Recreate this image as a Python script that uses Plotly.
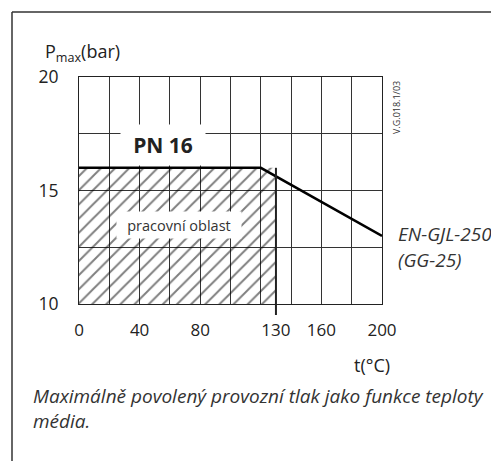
import plotly.graph_objects as go

# ---- data ----
temp_c = [0, 120, 200]            # temperature (°C)
p_max = [16, 16, 13]              # max pressure (bar), EN-GJL-250
area_t = [0, 130, 130, 0, 0]      # working area outline (°C)
area_p = [10, 10, 16, 16, 10]     # working area outline (bar)
x_tick_vals = [0, 40, 80, 130, 160, 200]
y_tick_vals = [10, 15, 20]

FONT = "Open Sans"
INK = "#222222"
OFF = 8  # page body margin

# plot area in screen pixels
L, R, T, B = 79, 382, 77, 304
W, H = R - L, B - T
FW, FH = 499 - OFF, 461 - OFF


def px(X):
    return (X - L) / W


def py(Y):
    return 1 - (Y - T) / H


fig = go.Figure()

# hatched working area
fig.add_trace(go.Scatter(
    x=area_t, y=area_p, mode="lines", fill="toself",
    fillcolor="rgba(0,0,0,0)",
    fillpattern=dict(shape="/", size=10, solidity=0.2, fgcolor="#000",
                     bgcolor="rgba(0,0,0,0)"),
    line=dict(width=0), hoverinfo="skip", showlegend=False))

# pressure curve
fig.add_trace(go.Scatter(
    x=temp_c, y=p_max, mode="lines",
    line=dict(color="black", width=2.5), showlegend=False))

# invisible trace on the label axis
fig.add_trace(go.Scatter(x=[0, 200], y=[10, 20], xaxis="x2", mode="markers",
                         marker=dict(opacity=0), hoverinfo="skip",
                         showlegend=False))

# right edge of working area (130 °C), extends below axis
fig.add_shape(type="line", xref="x", yref="paper", x0=130, x1=130,
              y0=py(315), y1=0.6, line=dict(color=INK, width=2))

# outer frame (top + left visible)
fig.add_shape(type="line", xref="paper", yref="paper", x0=px(12), x1=px(520),
              y0=py(12), y1=py(12), line=dict(color="#333", width=1.5))
fig.add_shape(type="line", xref="paper", yref="paper", x0=px(12), x1=px(12),
              y0=py(12), y1=py(480), line=dict(color="#333", width=1.5))

# labels inside the chart
fig.add_annotation(x=55.4, y=17.0, xref="x", yref="y", text="<b>PN 16</b>",
                   showarrow=False, bgcolor="white", width=84, height=40,
                   borderpad=0, xanchor="center", yanchor="middle",
                   font=dict(family=FONT, size=21, color=INK))
fig.add_annotation(x=65.7, y=13.48, xref="x", yref="y", text="pracovní oblast",
                   showarrow=False, bgcolor="white", width=124, height=26,
                   borderpad=0, xanchor="center", yanchor="middle",
                   font=dict(family=FONT, size=14.5, color="#333"))

# outside texts
fig.add_annotation(x=px(43), y=py(52), xref="paper", yref="paper",
                   text="P<sub>max</sub>(bar)", showarrow=False,
                   xanchor="left", yanchor="middle",
                   font=dict(family=FONT, size=18, color=INK))
fig.add_annotation(x=px(372), y=py(365), xref="paper", yref="paper",
                   text="t(°C)", showarrow=False,
                   xanchor="center", yanchor="middle",
                   font=dict(family=FONT, size=18, color=INK))
fig.add_annotation(x=px(396), y=py(234), xref="paper", yref="paper",
                   text="<i>EN-GJL-250</i>", showarrow=False,
                   xanchor="left", yanchor="middle",
                   font=dict(family=FONT, size=19, color="#333"))
fig.add_annotation(x=px(396), y=py(260), xref="paper", yref="paper",
                   text="<i>(GG-25)</i>", showarrow=False,
                   xanchor="left", yanchor="middle",
                   font=dict(family=FONT, size=19, color="#333"))
fig.add_annotation(x=px(396), y=py(107), xref="paper", yref="paper",
                   text="V.G.018.1/03", showarrow=False, textangle=-90,
                   xanchor="center", yanchor="middle",
                   font=dict(family=FONT, size=9, color="#333"))
fig.add_annotation(x=px(31), y=py(408), xref="paper", yref="paper",
                   text="<i>Maximálně povolený provozní tlak jako funkce teploty"
                        "<br>média.</i>",
                   showarrow=False, xanchor="left", yanchor="middle",
                   align="left",
                   font=dict(family=FONT, size=19, color="#333"))

fig.update_layout(
    width=FW, height=FH,
    margin=dict(l=L - OFF, r=FW - (R - OFF), t=T - OFF, b=FH - (B - OFF),
                pad=0),
    paper_bgcolor="white", plot_bgcolor="white",
    xaxis=dict(range=[0, 200], tick0=0, dtick=20, showticklabels=False,
               showgrid=True, gridcolor="#333", gridwidth=1, zeroline=False,
               showline=True, mirror=True, linecolor=INK, linewidth=1,
               ticks=""),
    xaxis2=dict(range=[0, 200], overlaying="x", anchor="y", side="bottom",
                tickvals=x_tick_vals, showgrid=False, zeroline=False,
                showline=False, ticks="", ticklabelstandoff=14,
                tickfont=dict(family=FONT, size=17, color=INK)),
    yaxis=dict(range=[10, 20], tickvals=y_tick_vals, showgrid=True,
               gridcolor="#333", gridwidth=1, zeroline=False,
               minor=dict(dtick=2.5, tick0=10, showgrid=True,
                          gridcolor="#333", gridwidth=1),
               showline=True, mirror=True, linecolor=INK, linewidth=1,
               ticks="", ticklabelstandoff=16,
               tickfont=dict(family=FONT, size=17.5, color=INK)),
    showlegend=False,
)

fig.write_html("out.html")
